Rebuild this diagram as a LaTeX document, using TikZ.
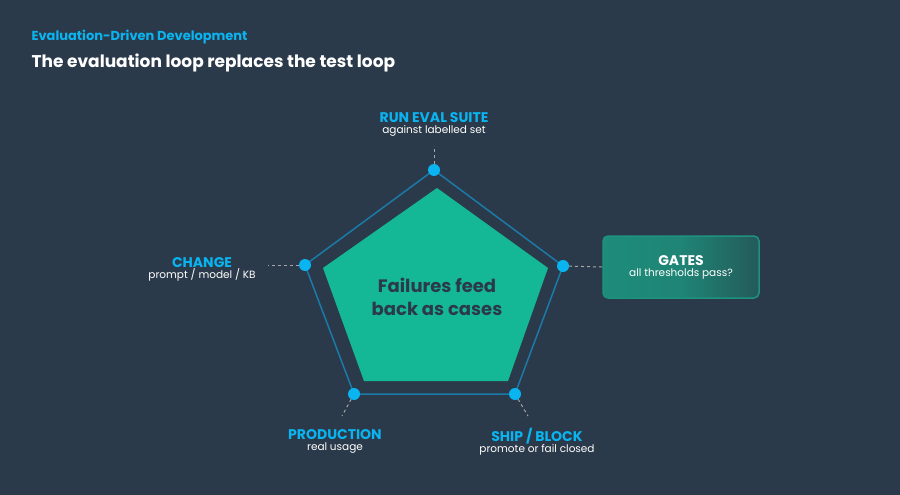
\documentclass[tikz,border=0pt]{standalone}
\usepackage{fontspec}
\setmainfont{Poppins}
\begin{document}
\definecolor{bg}{HTML}{2B3A4A}
\definecolor{teal}{HTML}{15B896}
\definecolor{cyan}{HTML}{0AB4F0}
\definecolor{edge}{HTML}{1A7AA8}
\definecolor{boxa}{HTML}{1E8C7A}
\definecolor{boxb}{HTML}{245A5A}
\begin{tikzpicture}[x=1pt,y=-1pt,
  dot/.style={circle,fill=cyan,inner sep=0pt,minimum size=12pt},
  lead/.style={draw=gray!70,dashed,line width=1pt,dash pattern=on 3pt off 3pt},
  ttl/.style={text=cyan,font=\bfseries\fontsize{14}{16}\selectfont},
  sub/.style={text=white,font=\fontsize{10.5}{12}\selectfont},
  lbl/.style={align=center,inner sep=0pt}]
\fill[bg] (0,0) rectangle (900,495);
\useasboundingbox (0,0) rectangle (900,495);
\node[anchor=west,text=cyan,font=\fontsize{13}{15}\selectfont\bfseries] (kick) at (28,37) {Evaluation-Driven Development};
\node[anchor=west,text=white,font=\fontsize{17}{20}\selectfont\bfseries] (title) at (28,63) {The evaluation loop replaces the test loop};
\fill[teal] (437,188) -- (548,268) -- (508,381) -- (364,381) -- (323,268) -- cycle;
\node[lbl,text=bg,font=\bfseries\fontsize{18}{23}\selectfont] (center) at (437,297) {Failures feed\\back as cases};
\coordinate (pt) at (434,170);
\coordinate (pr) at (563,266);
\coordinate (pbr) at (515,394);
\coordinate (pbl) at (354,394);
\coordinate (pl) at (305,265);
\draw[edge,line width=1.5pt] (pt) -- (pr) -- (pbr) -- (pbl) -- (pl) -- cycle;
% gates box
\shade[left color=boxa,right color=boxb,middle color=boxa!85!boxb,rounded corners=5pt] (603,236) rectangle (759,298);
\draw[teal!70!bg,line width=1.5pt,rounded corners=5pt] (603,236) rectangle (759,298);
\node[lbl] (gates) at (681,267) {{\color{white}\bfseries\fontsize{14}{17}\selectfont GATES}\\[-1pt]{\color{white}\fontsize{10.5}{12}\selectfont all thresholds pass?}};
\coordinate (gl) at (603,267);
% labels
\node[lbl] (run) at (434,124) {{\bfseries\fontsize{14}{16}\selectfont\color{cyan} RUN EVAL SUITE}\\[-1pt]{\color{white}\fontsize{10.5}{12}\selectfont against labelled set}};
\node[lbl] (chg) at (202,269) {{\bfseries\fontsize{14}{16}\selectfont\color{cyan} CHANGE}\\[-1pt]{\color{white}\fontsize{10.5}{12}\selectfont prompt / model / KB}};
\node[lbl] (prod) at (335,441) {{\bfseries\fontsize{14}{16}\selectfont\color{cyan} PRODUCTION}\\[-1pt]{\color{white}\fontsize{10.5}{12}\selectfont real usage}};
\node[lbl] (ship) at (537,442) {{\bfseries\fontsize{14}{16}\selectfont\color{cyan} SHIP / BLOCK}\\[-1pt]{\color{white}\fontsize{10.5}{12}\selectfont promote or fail closed}};
\coordinate (runb) at (434,146);
\coordinate (chgr) at (268,265);
\coordinate (prodt) at (342,416);
\coordinate (shipt) at (528,416);
\draw[lead] (pt) -- (runb);
\draw[lead] (pl) -- (chgr);
\draw[lead] (pr) -- (gl);
\draw[lead] (pbl) -- (prodt);
\draw[lead] (pbr) -- (shipt);
\foreach \p in {pt,pr,pbr,pbl,pl} \node[dot] (d\p) at (\p) {};
\end{tikzpicture}
\end{document}
